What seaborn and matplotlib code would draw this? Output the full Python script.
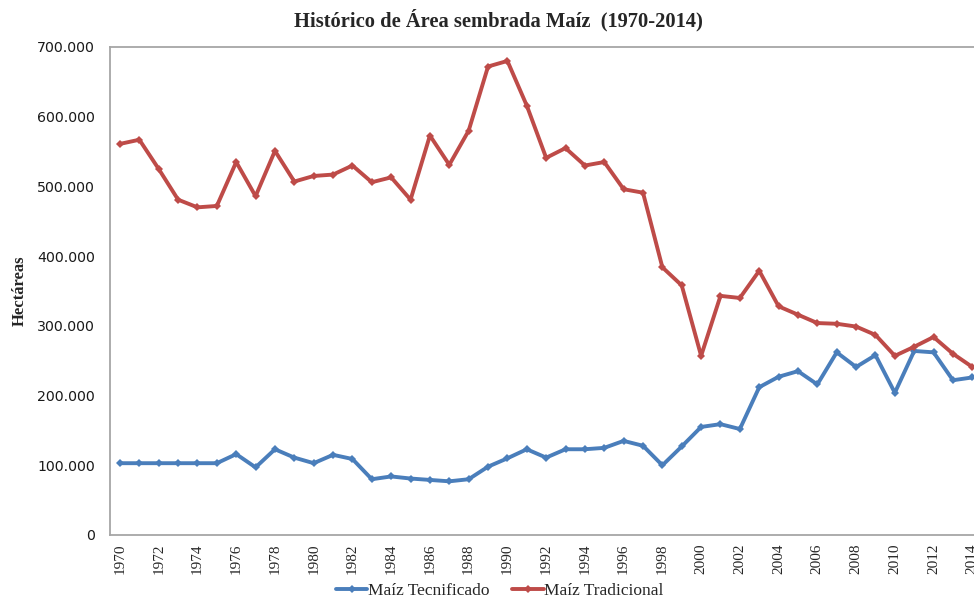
import numpy as np
import pandas as pd
import matplotlib
matplotlib.use("Agg")
import matplotlib.pyplot as plt
from matplotlib.ticker import FuncFormatter, MultipleLocator, FixedLocator
from matplotlib.lines import Line2D
import seaborn as sns

years = list(range(1970, 2015))
tecnificado = [103, 103, 103, 103, 103, 103, 116, 97, 123, 111, 103, 115, 109, 80, 84,
               81, 79, 77, 80, 98, 110, 123, 111, 123, 123, 125, 135, 128, 100, 127,
               155, 159, 152, 212, 227, 235, 216, 262, 241, 258, 204, 264, 262, 222, 226]
tradicional = [561, 567, 525, 481, 470, 472, 535, 486, 551, 507, 515, 517, 530, 506, 513,
               481, 573, 531, 580, 672, 680, 616, 541, 555, 530, 535, 496, 491, 384, 358,
               257, 343, 340, 379, 328, 316, 304, 303, 299, 287, 257, 270, 284, 260, 241]
tecnificado = [v * 1000 for v in tecnificado]
tradicional = [v * 1000 for v in tradicional]
series_names = ["Maíz Tecnificado", "Maíz Tradicional"]
colors = ["#4A7EBB", "#BE4B48"]

df = pd.DataFrame({
    "Año": years * 2,
    "Hectáreas": tecnificado + tradicional,
    "Serie": [series_names[0]] * len(years) + [series_names[1]] * len(years),
})

sns.set_style("white")
plt.rcParams["font.family"] = ["Liberation Serif", "DejaVu Serif"]

fig = plt.figure(figsize=(9.74, 5.99), dpi=100)
W, H = 974, 599
left_px, right_px, top_px, bot_px = 110.3, 982.0, 47, 535
ax = fig.add_axes([left_px / W, 1 - bot_px / H, (right_px - left_px) / W, (bot_px - top_px) / H])

sns.lineplot(data=df, x="Año", y="Hectáreas", hue="Serie", palette=colors,
             marker="D", markersize=4.5, markeredgewidth=0, linewidth=2.8,
             ax=ax, legend=False)

ax.set_xlim(1969.5, 2014.5)
ax.set_ylim(0, 700000)
ax.yaxis.set_major_locator(MultipleLocator(100000))
ax.yaxis.set_major_formatter(FuncFormatter(
    lambda v, p: "0" if v == 0 else f"{int(v):,}".replace(",", ".")))
ax.xaxis.set_major_locator(FixedLocator(years[::2]))
ax.xaxis.set_minor_locator(FixedLocator([y - 0.5 for y in years[::2]]))
ax.tick_params(axis="x", which="major", length=0, pad=6, labelsize=11, rotation=90)
ax.tick_params(axis="x", which="minor", length=5, width=1.2, color="#A6A6A6", direction="out")
ax.tick_params(axis="y", which="major", length=0, pad=11, labelsize=10.2)
for lbl in ax.get_yticklabels():
    lbl.set_fontfamily("DejaVu Sans")
    lbl.set_color("#1a1a1a")
for lbl in ax.get_xticklabels():
    lbl.set_fontfamily("Liberation Serif")

for s in ax.spines.values():
    s.set_color("#A6A6A6")
    s.set_linewidth(1.3)

ax.set_xlabel("")
ax.set_ylabel("Hectáreas", fontsize=12, fontweight="bold")
ax.yaxis.set_label_coords(-0.095, 0.5)

fig.text(498 / W, 1 - 20 / H, "Histórico de Área sembrada Maíz  (1970-2014)",
         ha="center", va="center", fontsize=14.8, fontweight="bold")

handles = [Line2D([0], [0], color=c, lw=2.8, marker="D", markersize=4.5, markeredgewidth=0)
           for c in colors]
fig.legend(handles, series_names, loc="center", bbox_to_anchor=(500 / W, 1 - 591 / H),
           ncol=2, frameon=False, fontsize=12.5, handlelength=1.8, handletextpad=0.05,
           columnspacing=1.3, borderpad=0.1)

fig.savefig("out.png", dpi=100)
